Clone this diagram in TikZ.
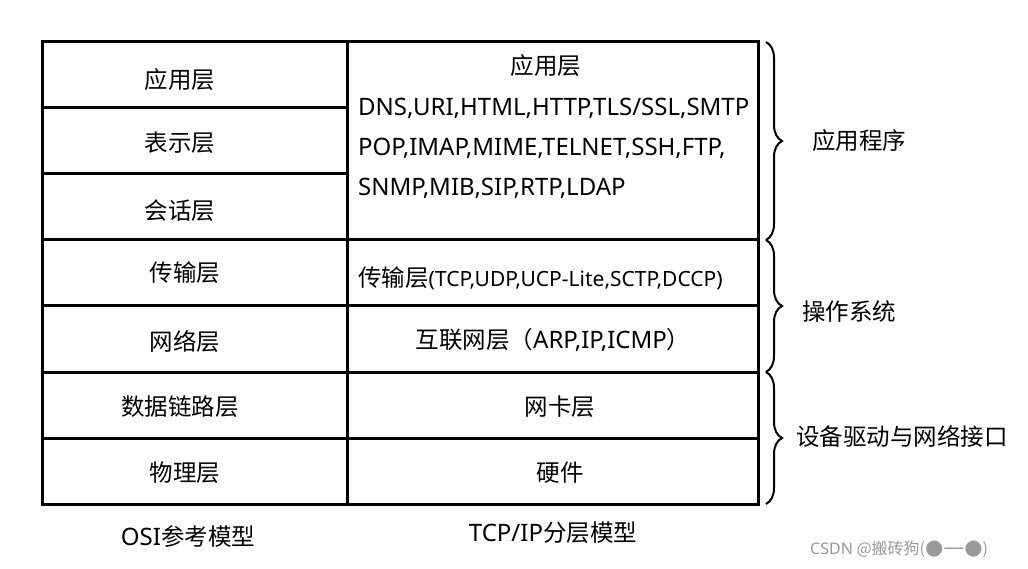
\documentclass[tikz,border=0pt]{standalone}
\usepackage{fontspec}
\setmainfont{Noto Sans CJK SC}
\newfontfamily\lat{Noto Sans}
\usetikzlibrary{decorations.pathreplacing}
\tikzset{
  cell/.style={draw=black, line width=3pt},
  txt/.style={font=\fontsize{23.5}{28}\selectfont, inner sep=0pt},
  lft/.style={txt, anchor=west},
  brc/.style={draw=black, line width=2pt, decorate, decoration={brace, amplitude=16pt, aspect=0.5}},
}
\newcommand\latx{\lat\fontsize{24}{28}\selectfont}
\begin{document}
\begin{tikzpicture}[x=1pt, y=-1pt]
\useasboundingbox (0,0) rectangle (1028,569);
% table grid
\draw[cell] (42,42) rectangle (758,504);
\draw[cell] (347,42) -- (347,504);
\foreach \yy in {108,174} \draw[cell] (42,\yy) -- (347,\yy);
\foreach \yy in {240,306,372,438} \draw[cell] (42,\yy) -- (758,\yy);
% OSI column
\node[txt] (osi7) at (180,80) {应用层};
\node[txt] (osi6) at (180,143) {表示层};
\node[txt] (osi5) at (180,211) {会话层};
\node[txt] (osi4) at (185,273) {传输层};
\node[txt] (osi3) at (185,342) {网络层};
\node[txt] (osi2) at (180,407) {数据链路层};
\node[txt] (osi1) at (185,473) {物理层};
% TCP/IP column
\node[txt] (tapp) at (546,66) {应用层};
\node[lft] (l1) at (358,108) {\latx DNS,URI,HTML,HTTP,TLS/SSL,SMTP};
\node[lft] (l2) at (358,148) {\latx POP,IMAP,MIME,TELNET,SSH,FTP,};
\node[lft] (l3) at (358,188) {\latx SNMP,MIB,SIP,RTP,LDAP};
\node[lft] (ttr) at (358,278) {传输层{\lat\fontsize{21}{24}\selectfont(TCP,UDP,UCP-Lite,SCTP,DCCP)}};
\node[txt] (tnet) at (553,340) {互联网层（{\latx ARP,IP,ICMP}）};
\node[txt] (tnic) at (560,407) {网卡层};
\node[txt] (thw) at (560,473) {硬件};
% captions
\node[txt] (cosi) at (188,537) {{\latx OSI}参考模型};
\node[txt] (ctcp) at (553,533) {{\latx TCP/IP}分层模型};
% braces
\coordinate (b1t) at (766,42); \coordinate (b1b) at (766,240);
\coordinate (b2t) at (766,240); \coordinate (b2b) at (766,372);
\coordinate (b3t) at (766,372); \coordinate (b3b) at (766,504);
\draw[brc] (b1t) -- (b1b);
\draw[brc] (b2t) -- (b2b);
\draw[brc] (b3t) -- (b3b);
\node[lft] (g1) at (812,141) {应用程序};
\node[lft] (g2) at (802,312) {操作系统};
\node[lft] (g3) at (796,436) {设备驱动与网络接口};
% watermark
\node[anchor=west, inner sep=0pt, text=black!40, font=\fontsize{16}{18}\selectfont] (wm) at (810,549) {{\lat CSDN} @搬砖狗({\fontspec{DejaVu Sans}\fontsize{21}{22}\selectfont●—●})};
\end{tikzpicture}
\end{document}
